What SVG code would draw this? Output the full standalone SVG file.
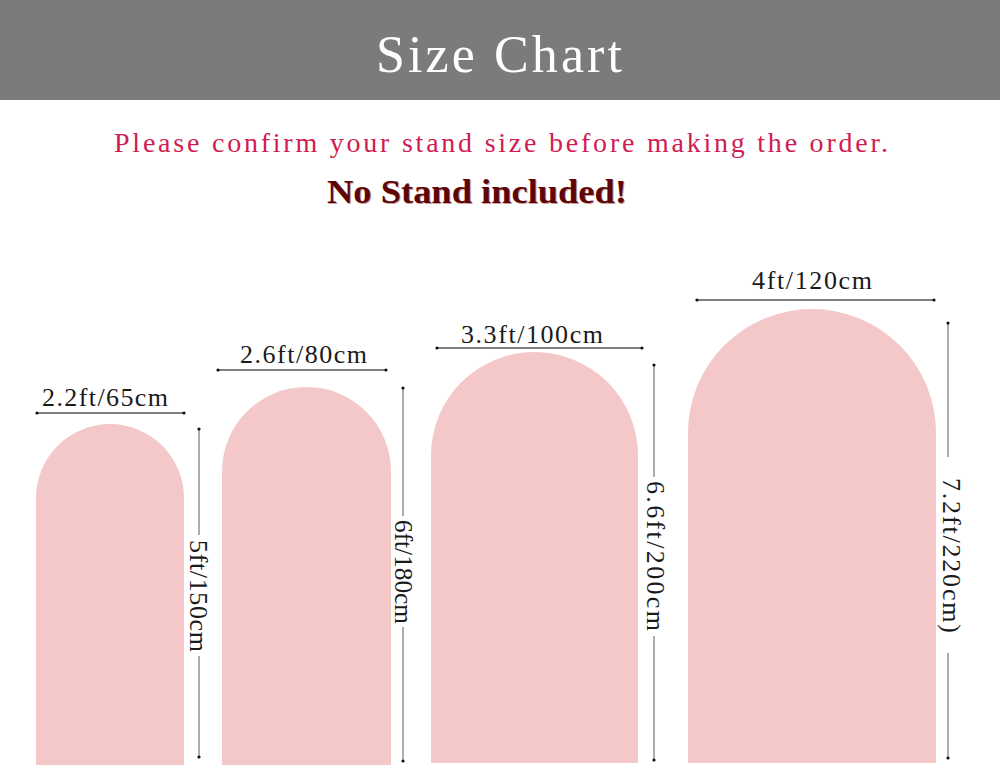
<svg xmlns="http://www.w3.org/2000/svg" width="1000" height="769" viewBox="0 0 1000 769">
<style>
.arch{fill:#f4c7c9}
.lbl{font-family:"Liberation Serif","Times New Roman",serif;font-size:26px;fill:#1a1a1a}
.hl{stroke:#555;stroke-width:1.3}
.vl{stroke:#999;stroke-width:1.6}
.dot{fill:#111}
</style>
<rect x="0" y="0" width="1000" height="769" fill="#ffffff"/>
<g id="header">
<rect x="0" y="0" width="1000" height="100" fill="#7b7b7b"/>
<text x="376" y="72" textLength="246" lengthAdjust="spacing" font-family="Liberation Serif, serif" font-size="52" fill="#ffffff">Size Chart</text>
</g>
<g id="notice">
<text x="114" y="152" textLength="774" lengthAdjust="spacing" font-family="Liberation Serif, serif" font-size="28" fill="#d01c52">Please confirm your stand size before making the order.</text>
<text x="328" y="204" textLength="300" lengthAdjust="spacingAndGlyphs" font-family="Liberation Serif, serif" font-weight="bold" font-size="34" fill="#c9a0a0">No Stand included!</text>
<text x="327" y="203" textLength="300" lengthAdjust="spacingAndGlyphs" font-family="Liberation Serif, serif" font-weight="bold" font-size="34" fill="#5e0606">No Stand included!</text>
</g>
<g id="arch1">
<path class="arch" d="M36 765 V498 A74 74 0 0 1 184 498 V765 Z"/>
</g>
<g id="arch2">
<path class="arch" d="M222 765 V471.5 A84.5 84.5 0 0 1 391 471.5 V765 Z"/>
</g>
<g id="arch3">
<path class="arch" d="M431 763 V455.5 A103.5 103.5 0 0 1 638 455.5 V763 Z"/>
</g>
<g id="arch4">
<path class="arch" d="M688 763 V433 A124 124 0 0 1 936 433 V763 Z"/>
</g>
<g id="connectors">
<line class="hl" x1="37" y1="413" x2="184" y2="413"/>
<circle class="dot" cx="37" cy="413" r="1.6"/><circle class="dot" cx="184" cy="413" r="1.6"/>
<line class="hl" x1="218" y1="370" x2="386" y2="370"/>
<circle class="dot" cx="218" cy="370" r="1.6"/><circle class="dot" cx="386" cy="370" r="1.6"/>
<line class="hl" x1="437" y1="348" x2="642" y2="348"/>
<circle class="dot" cx="437" cy="348" r="1.6"/><circle class="dot" cx="642" cy="348" r="1.6"/>
<line class="hl" x1="697" y1="300" x2="934" y2="300"/>
<circle class="dot" cx="697" cy="300" r="1.6"/><circle class="dot" cx="934" cy="300" r="1.6"/>

<line class="vl" x1="199" y1="429" x2="199" y2="535"/>
<line class="vl" x1="199" y1="656" x2="199" y2="757"/>
<circle class="dot" cx="199" cy="429" r="1.6"/><circle class="dot" cx="199" cy="757" r="1.6"/>
<line class="vl" x1="403" y1="388" x2="403" y2="516"/>
<line class="vl" x1="403" y1="627" x2="403" y2="761"/>
<circle class="dot" cx="403" cy="388" r="1.6"/><circle class="dot" cx="403" cy="761" r="1.6"/>
<line class="vl" x1="654" y1="365" x2="654" y2="477"/>
<line class="vl" x1="654" y1="636" x2="654" y2="760"/>
<circle class="dot" cx="654" cy="365" r="1.6"/><circle class="dot" cx="654" cy="760" r="1.6"/>
<line class="vl" x1="948" y1="323" x2="948" y2="457"/>
<line class="vl" x1="948" y1="653" x2="948" y2="758"/>
<circle class="dot" cx="948" cy="323" r="1.6"/><circle class="dot" cx="948" cy="758" r="1.6"/>
</g>
<g id="labels">
<text class="lbl" x="42" y="406" textLength="126" lengthAdjust="spacing">2.2ft/65cm</text>
<text class="lbl" x="240" y="363" textLength="127" lengthAdjust="spacing">2.6ft/80cm</text>
<text class="lbl" x="461" y="343" textLength="142" lengthAdjust="spacing">3.3ft/100cm</text>
<text class="lbl" x="752" y="289" textLength="120" lengthAdjust="spacing">4ft/120cm</text>
<text class="lbl" transform="translate(190,540) rotate(90)" x="0" y="0" textLength="112" lengthAdjust="spacing">5ft/150cm</text>
<text class="lbl" transform="translate(395,520) rotate(90)" x="0" y="0" textLength="104" lengthAdjust="spacingAndGlyphs">6ft/180cm</text>
<text class="lbl" transform="translate(647,481) rotate(90)" x="0" y="0" textLength="150" lengthAdjust="spacing">6.6ft/200cm</text>
<text class="lbl" transform="translate(943,478) rotate(90)" x="0" y="0" textLength="155" lengthAdjust="spacing">7.2ft/220cm)</text>
</g>
</svg>
